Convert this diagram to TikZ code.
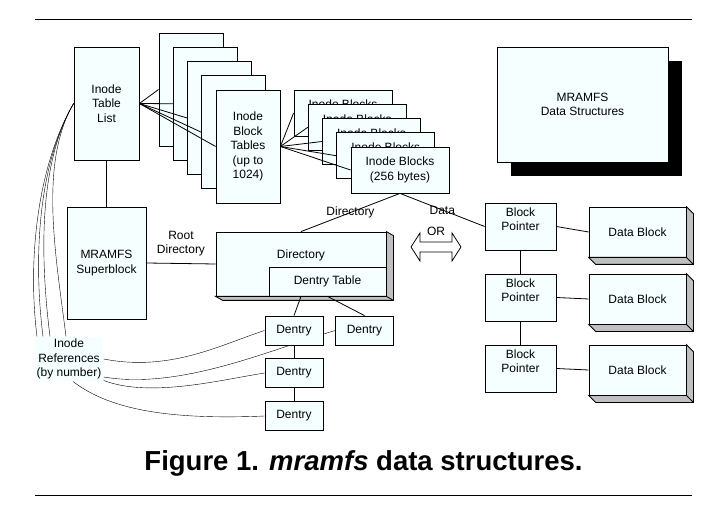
\documentclass[tikz,border=0pt]{standalone}
\usepackage{fontspec}
\setmainfont{Liberation Sans}
\usetikzlibrary{calc,backgrounds}
\definecolor{boxfill}{RGB}{245,255,255}
\definecolor{sidegray}{RGB}{192,192,192}

\begin{document}
\begin{tikzpicture}[x=1pt,y=-1pt,>=latex,line width=0.8pt]
	\tikzset{
		box/.style={draw, fill=boxfill, align=center, inner sep=0pt, font=\fontsize{12}{14.5}\selectfont},
		txt/.style={align=center, inner sep=0pt, font=\fontsize{12}{14.5}\selectfont},
		page/.style={box, minimum width=64pt, minimum height=113pt},
		iblock/.style={box, minimum width=98pt, minimum height=46pt},
		ptr/.style={box, minimum width=71pt, minimum height=47pt},
		dblock/.style={box, minimum width=97pt, minimum height=50pt},
		dentry/.style={box, minimum width=58pt, minimum height=29pt},
	}
	\useasboundingbox (0,0) rectangle (718,513);
	\draw[line width=1pt] (35,20) -- (692,20);
	\draw[line width=1pt] (35,495) -- (692,495);

	% inode tables
	\node[box, minimum width=65pt, minimum height=113pt] (itl) at (106.5,103.5) {Inode\\Table\\List};
	\foreach \i in {0,...,3}
		{
			\node[page] (pg\i) at ({191+14.25*\i},{89.5+14.25*\i}) {};
		}
	\node[page] (pg4) at (248,146.5) {Inode\\Block\\Tables\\(up to\\1024)};
	\foreach \i in {0,...,4} {
			\draw (itl.east) -- (pg\i.west);
		}

	% inode blocks
	\foreach \i in {0,...,4}
		{
			\node[iblock] (blk\i) at ({343+14.25*\i},{113+14.25*\i}) {Inode Blocks\\(256 bytes)};
		}
	\foreach \i in {0,...,4} {
			\draw (pg4.east) -- (blk\i.west);
		}

	% legend
	\node[box, minimum width=171pt, minimum height=115pt] (mds) at (582.5,104.5) {MRAMFS\\Data Structures};
	\begin{scope}[on background layer]
		\fill ($(mds.north west)+(14,14)$) rectangle ($(mds.south east)+(14,14)$);
	\end{scope}

	% superblock and root directory
	\node[box, minimum width=79pt, minimum height=112pt] (sb) at (106.5,263) {MRAMFS\\Superblock};
	\draw (itl) -- (sb);
	\node[box, minimum width=170pt, minimum height=64pt] (dir) at (301,264) {};
	\node[txt] (dirtxt) at (301,255) {Directory};
	\node[box, minimum width=117pt, minimum height=29pt] (dtab) at (327.5,281.5) {Dentry Table};
	\draw (sb.east) -- (dir.west) node[midway, above=7pt, txt] {Root\\Directory};

	% block pointers and data blocks
	\foreach \i/\y in {1/226.5,2/297.5,3/368.5}
		{
			\node[ptr] (bp\i) at (520.5,\y) {Block\\Pointer\\\mbox{}};
		}
	\foreach \i/\y in {1/232,2/299,3/370}
		{
			\node[dblock] (db\i) at (637.5,\y) {Data Block};
			\draw (bp\i.east) -- (db\i.west);
		}
	\draw (bp1) -- (bp2);
	\draw (bp2) -- (bp3);

	% raised faces
	\foreach \n/\dx/\dy in {dir/7/4,db1/7/7,db2/7/7,db3/7/7}
		{
			\filldraw[fill=sidegray] (\n.south west) -- ++(\dx,\dy) -- ($(\n.south east)+(\dx,\dy)$)
			-- ($(\n.north east)+(\dx,\dy)$) -- (\n.north east) -- (\n.south east) -- cycle;
			\draw (\n.south east) -- ++(\dx,\dy);
		}

	% directory or data
	\draw (blk4.south) -- (dir.north) node[midway, txt] {Directory};
	\draw (blk4.south) -- (bp1.west) node[midway, txt] {Data};
	\draw[fill=white] (411,247) -- (420,233) -- (420,242) -- (452,242) -- (452,233) -- (461,247)
	-- (452,261) -- (452,252) -- (420,252) -- (420,261) -- cycle;
	\node[txt] (or) at (436,231) {OR};

	% dentries
	\node[dentry] (de1) at (294,330.5) {Dentry};
	\node[dentry] (de2) at (364.5,330.5) {Dentry};
	\node[dentry] (de3) at (294,373) {Dentry};
	\node[dentry] (de4) at (294,416) {Dentry};
	\draw (dir.south) -- (de1.north);
	\draw (dtab.south) -- (de2.north);
	\draw (de1) -- (de3);
	\draw (de3) -- (de4);

	% inode references
	\node[txt, fill=boxfill, inner sep=2pt] (refs) at (69,359) {Inode\\References\\(by number)};
	\begin{scope}[on background layer]
		\draw (refs.east) .. controls (170,372) and (220,345) .. (de1.west);
		\draw ($(refs.east)+(0,18)$) .. controls (180,390) and (270,350) .. (de2.west);
		\draw ($(refs.south east)+(0,-1)$) .. controls (150,398) and (220,380) .. (de3.west);
		\draw ($(refs.south)+(4,0)$) .. controls (110,410) and (170,420) .. (de4.west);
		\foreach \dx in {-32,-26,-19,-3}
			{
				\draw ($(refs.north)+(\dx,0)$) .. controls +(-10,-80) and +(-35,60) .. (itl.west);
			}
	\end{scope}

	\node[font=\fontsize{27.5}{30}\selectfont\bfseries] (title) at (363.5,463) {Figure 1. \textit{mramfs} data structures.};
\end{tikzpicture}
\end{document}
